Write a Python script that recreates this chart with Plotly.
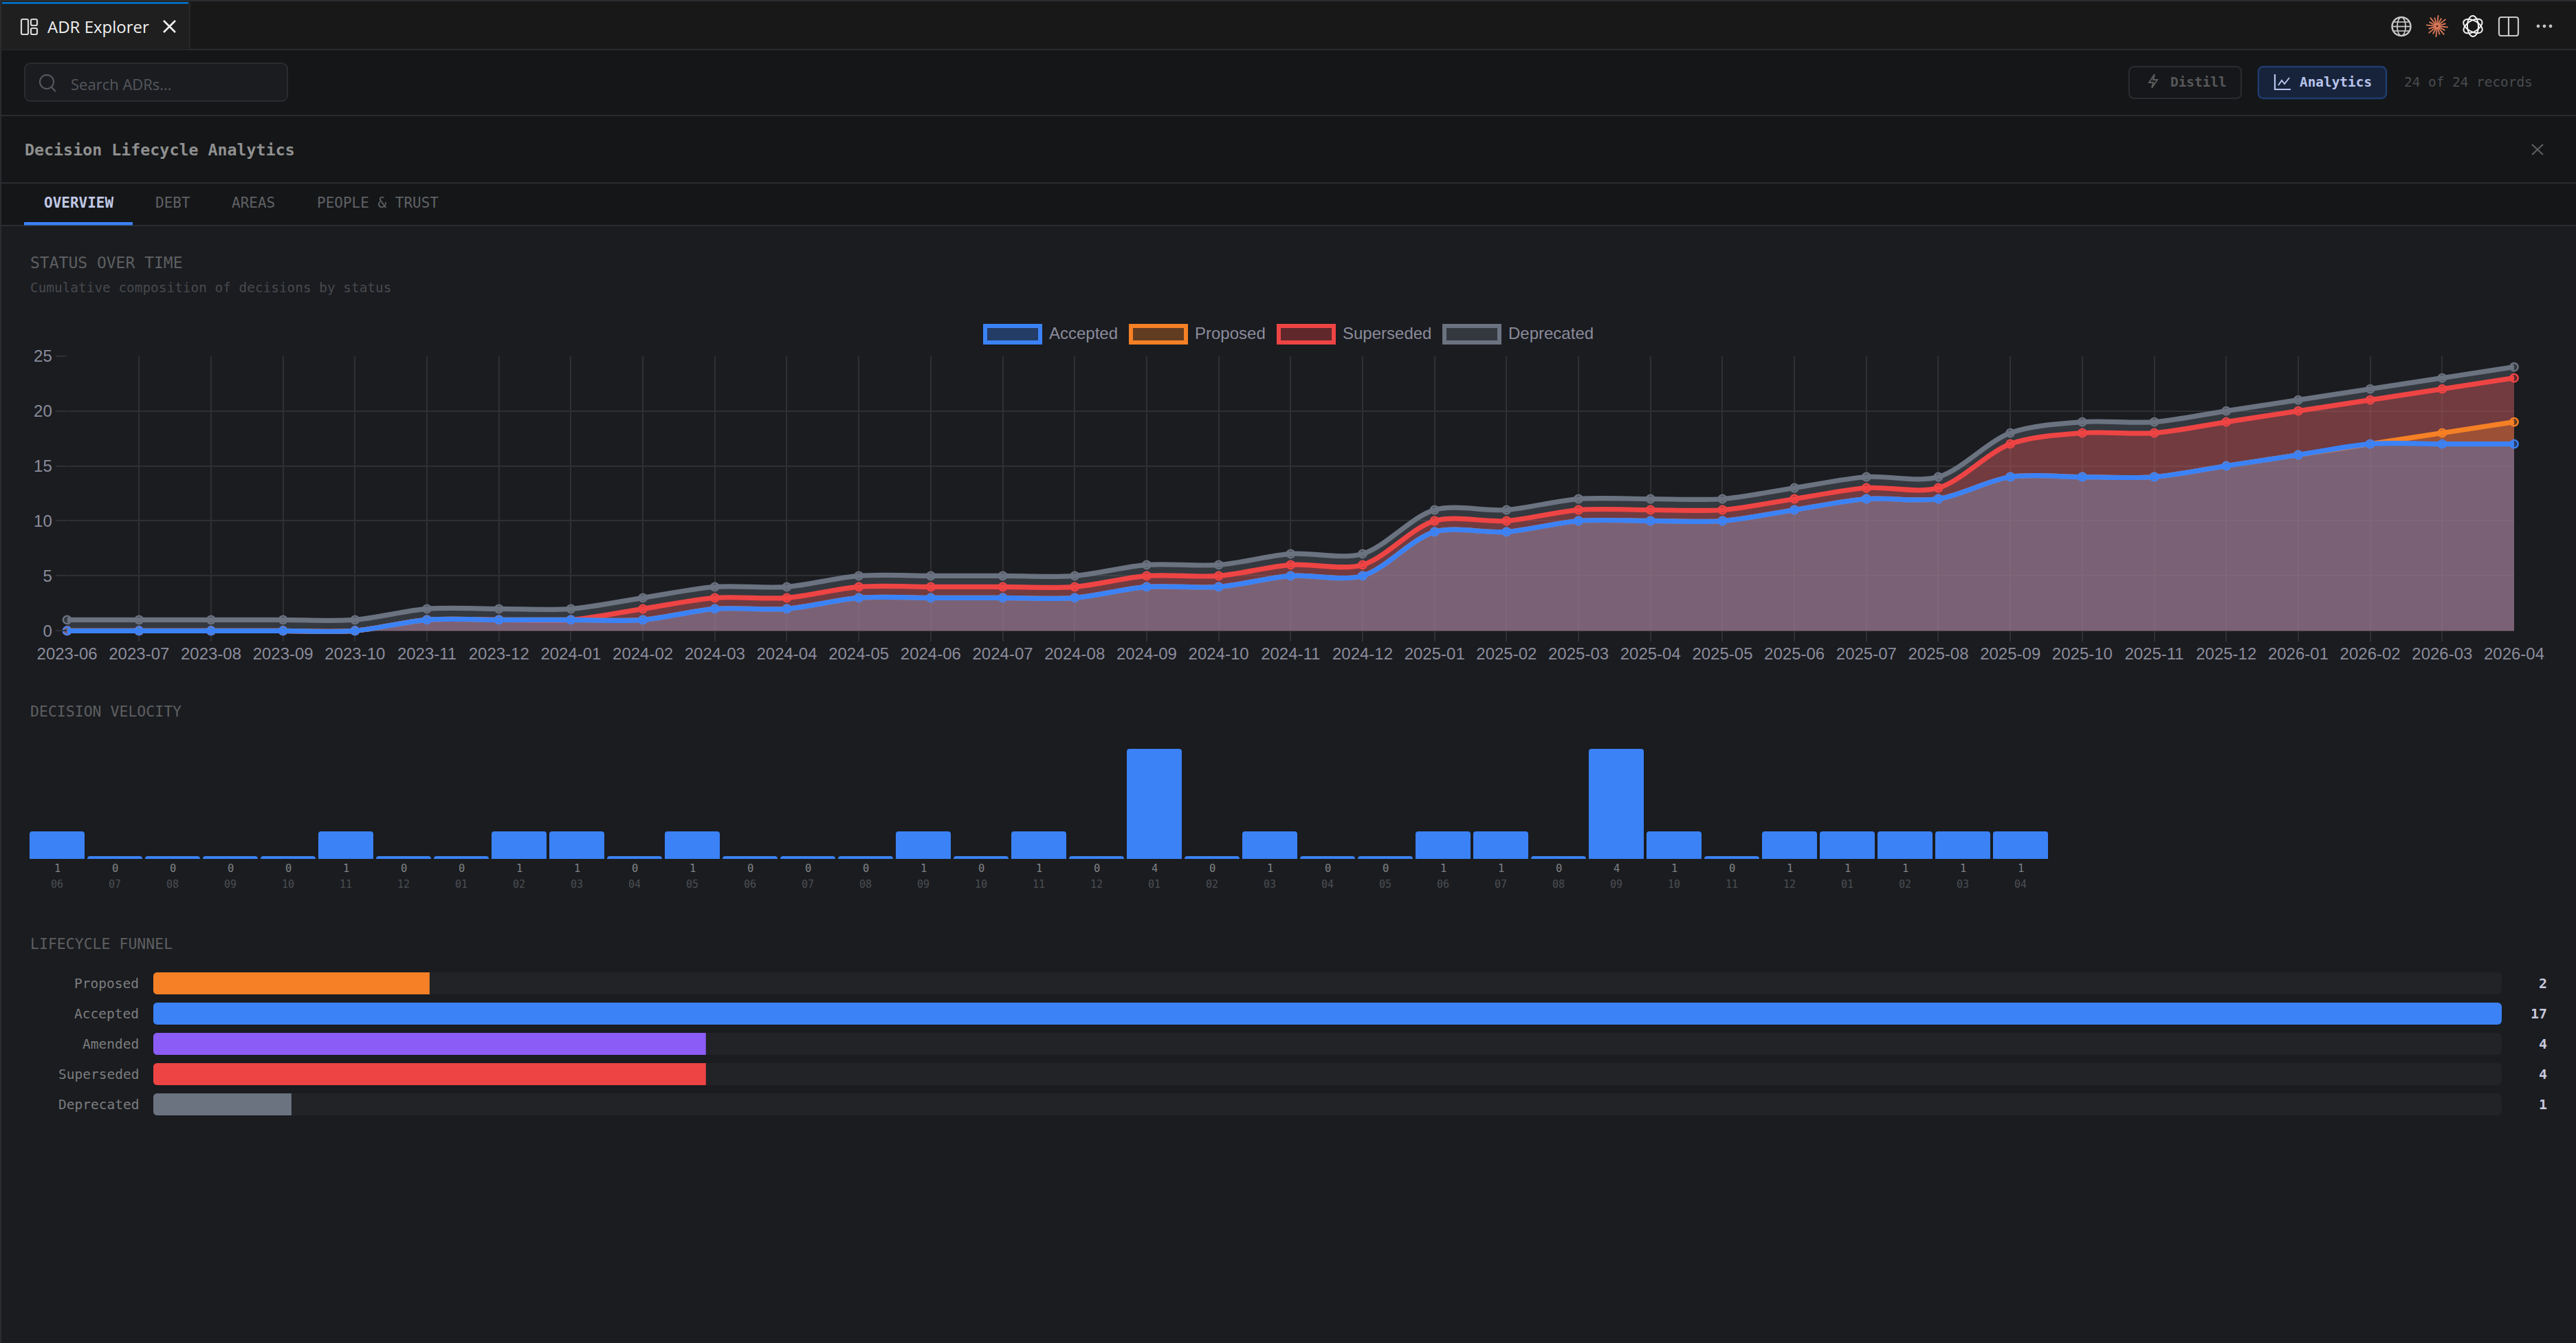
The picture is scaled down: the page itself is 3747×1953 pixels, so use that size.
import math
import numpy as np
import plotly.graph_objects as go

W, H = 3747, 1953

# ---------- data ----------
months = ["2023-06","2023-07","2023-08","2023-09","2023-10","2023-11","2023-12",
          "2024-01","2024-02","2024-03","2024-04","2024-05","2024-06","2024-07","2024-08","2024-09","2024-10","2024-11","2024-12",
          "2025-01","2025-02","2025-03","2025-04","2025-05","2025-06","2025-07","2025-08","2025-09","2025-10","2025-11","2025-12",
          "2026-01","2026-02","2026-03","2026-04"]
accepted   = [0,0,0,0,0,1,1,1,1,2,2,3,3,3,3,4,4,5,5,9,9,10,10,10,11,12,12,14,14,14,15,16,17,17,17]
proposed   = [0,0,0,0,0,0,0,0,0,0,0,0,0,0,0,0,0,0,0,0,0,0,0,0,0,0,0,0,0,0,0,0,0,1,2]
superseded = [0,0,0,0,0,0,0,0,1,1,1,1,1,1,1,1,1,1,1,1,1,1,1,1,1,1,1,3,4,4,4,4,4,4,4]
deprecated = [1,1,1,1,1,1,1,1,1,1,1,1,1,1,1,1,1,1,1,1,1,1,1,1,1,1,1,1,1,1,1,1,1,1,1]
velocity   = [1,0,0,0,0,1,0,0,1,1,0,1,0,0,0,1,0,1,0,4,0,1,0,0,1,1,0,4,1,0,1,1,1,1,1]
funnel_names  = ["Proposed","Accepted","Amended","Superseded","Deprecated"]
funnel_values = [2,17,4,4,1]
status_names = ["Accepted","Proposed","Superseded","Deprecated"]

# ---------- styles ----------
BLUE, ORANGE, RED, GRAY, PURPLE = "#3b82f6", "#f58025", "#ef4444", "#6b7280", "#8b5cf6"
FUNNEL_COLORS = [ORANGE, BLUE, PURPLE, RED, GRAY]
MONO = "DejaVu Sans Mono"
SANS = "Liberation Sans"
UI = "Open Sans"
BG = "#1a1c20"
LINE = "#2b2c2f"
GRID = "#2e3034"
TICK = "#8b8b9b"

def a(hexc, alpha):
    return f"rgba({int(hexc[1:3],16)},{int(hexc[3:5],16)},{int(hexc[5:7],16)},{alpha})"

def fx(px): return px / W
def fy(py): return 1 - py / H

shapes, annos = [], []

def rect(x0, y0, x1, y1, fill, line=None, lw=0, r=0):
    if r:
        k = r * 0.45
        p = (f"M{fx(x0+r)},{fy(y0)} L{fx(x1-r)},{fy(y0)} C{fx(x1-k)},{fy(y0)} {fx(x1)},{fy(y0+k)} {fx(x1)},{fy(y0+r)} "
             f"L{fx(x1)},{fy(y1-r)} C{fx(x1)},{fy(y1-k)} {fx(x1-k)},{fy(y1)} {fx(x1-r)},{fy(y1)} "
             f"L{fx(x0+r)},{fy(y1)} C{fx(x0+k)},{fy(y1)} {fx(x0)},{fy(y1-k)} {fx(x0)},{fy(y1-r)} "
             f"L{fx(x0)},{fy(y0+r)} C{fx(x0)},{fy(y0+k)} {fx(x0+k)},{fy(y0)} {fx(x0+r)},{fy(y0)} Z")
        shapes.append(dict(type="path", xref="paper", yref="paper", path=p, fillcolor=fill,
                           line=dict(color=line or "rgba(0,0,0,0)", width=lw), layer="below"))
    else:
        shapes.append(dict(type="rect", xref="paper", yref="paper", x0=fx(x0), x1=fx(x1), y0=fy(y0), y1=fy(y1),
                           fillcolor=fill, line=dict(color=line or "rgba(0,0,0,0)", width=lw), layer="below"))

def poly(pts, color, lw=2.4, fill=None, close=False):
    p = "M" + " L".join(f"{fx(x)},{fy(y)}" for x, y in pts) + (" Z" if close else "")
    shapes.append(dict(type="path", xref="paper", yref="paper", path=p, fillcolor=fill or "rgba(0,0,0,0)",
                       line=dict(color=color, width=lw), layer="above"))

def ell(cx, cy, rx, ry, color, lw=2.4, rot=0):
    pts = []
    for i in range(49):
        t = 2 * math.pi * i / 48
        x, y = rx * math.cos(t), ry * math.sin(t)
        c, s = math.cos(rot), math.sin(rot)
        pts.append((cx + x * c - y * s, cy + x * s + y * c))
    poly(pts, color, lw)

def txt(x, y, s, size, color, font=MONO, anchor="left", xref="paper", yref="paper"):
    annos.append(dict(x=fx(x) if xref == "paper" else x, y=fy(y) if yref == "paper" else y, text=s,
                      xref=xref, yref=yref, showarrow=False, xanchor=anchor, yanchor="middle",
                      borderpad=0, font=dict(family=font, size=size, color=color)))

# ---------- chrome ----------
rect(0, 0, W, 72, "#181818")
rect(0, 72, W, 328, "#151618")
rect(0, 0, W, 2, LINE)
rect(0, 71, W, 73, LINE)
rect(0, 167, W, 169, LINE)
rect(0, 265, W, 267, LINE)
rect(0, 327, W, 329, LINE)
rect(0, 0, 2, H, LINE)
rect(2, 3, 275, 72, "#1f1f1f")
rect(3, 3, 274, 5.5, "#0078d4")
rect(275, 3, 276.5, 72, LINE)
rect(36, 92, 418, 147, BG, "#2a2c30", 2, 8)
rect(35, 323, 193, 327.5, BLUE)
rect(3097, 97, 3260, 143, "#16171a", "#2a2c30", 2, 7)
rect(3285, 97, 3471, 143, "#17233a", "#1f3d70", 2.4, 7)

# tab icon and close glyphs
for b in [(31, 28, 41, 50), (45, 28, 54, 37), (45, 41, 54, 50)]:
    rect(*b, "rgba(0,0,0,0)", "#d8d8d8", 2.2, 2)
shapes[-3:] = [dict(s, layer="above") for s in shapes[-3:]]
poly([(238, 30), (255, 47)], "#f0f0f0", 2.6); poly([(255, 30), (238, 47)], "#f0f0f0", 2.6)
poly([(3683, 210), (3699, 225)], "#5e5e5e", 2.2); poly([(3699, 210), (3683, 225)], "#5e5e5e", 2.2)
# search icon
ell(68, 119, 10, 10, "#55585e", 2.2); poly([(75, 127), (81, 133)], "#55585e", 2.2)
# globe
ell(3493, 38.5, 13.5, 13.5, "#c8c8c8"); ell(3493, 38.5, 6, 13.5, "#c8c8c8", 1.8)
poly([(3479.5, 38.5), (3506.5, 38.5)], "#c8c8c8", 1.8)
poly([(3481, 32), (3505, 32)], "#c8c8c8", 1.6); poly([(3481, 45), (3505, 45)], "#c8c8c8", 1.6)
# starburst
for i in range(16):
    t = 2 * math.pi * i / 16 + 0.1
    r = 16 if i % 2 == 0 else 13
    poly([(3545 + 1.5 * math.cos(t), 38 + 1.5 * math.sin(t)), (3545 + r * math.cos(t), 38 + r * math.sin(t))], "#d97757", 1.9)
# knot
for i in range(3):
    rot = 2 * math.pi * i / 3 + 0.5
    ell(3597, 38, 15, 8, "#f2f2f2", 2, rot)
# layout icon
rect(3635, 25, 3663, 52, "rgba(0,0,0,0)", "#c8c8c8", 2.2, 3)
shapes[-1] = dict(shapes[-1], layer="above")
poly([(3649, 25), (3649, 52)], "#c8c8c8", 2.2)
# dots
for dx in (3692, 3701, 3710):
    ell(dx, 38, 1.3, 1.3, "#d0d0d0", 2)
# bolt
poly([(3134, 108), (3126, 120), (3132, 120), (3130, 128), (3138, 116), (3132, 116), (3134, 108)], "#5a5a5a", 2)
# analytics icon
poly([(3309, 108), (3309, 130), (3332, 130)], "#b8c4ec", 2.2)
poly([(3314, 124), (3319, 117), (3323, 122), (3330, 113)], "#b8c4ec", 2)

txt(68, 39, "ADR Explorer", 24, "#f0f0f0", UI)
txt(102, 122, "Search ADRs...", 22, "#55585e", UI)
txt(3156, 120, "<b>Distill</b>", 19.4, "#57585a")
txt(3344, 120, "<b>Analytics</b>", 19.4, "#b8c4ec")
txt(3496, 120, "24 of 24 records", 19.4, "#4a4c50")
txt(35, 217, "<b>Decision Lifecycle Analytics</b>", 23.3, "#8f9090")
txt(63, 295, "<b>OVERVIEW</b>", 21, "#c0c8e4")
txt(225, 295, "DEBT", 21, "#5f6165")
txt(336, 295, "AREAS", 21, "#5f6165")
txt(460, 295, "PEOPLE &amp; TRUST", 21, "#5f6165")
txt(43, 382, "STATUS OVER TIME", 23, "#5e5f61")
txt(43, 419, "Cumulative composition of decisions by status", 19.4, "#47494d")
txt(43, 1034, "DECISION VELOCITY", 21.5, "#5e5f61")
txt(43, 1372, "LIFECYCLE FUNNEL", 21.5, "#5e5f61")

# legend (built from the status names)
leg_box = [1430, 1642, 1857, 2098]
leg_col = [BLUE, ORANGE, RED, GRAY]
for bx, col, name in zip(leg_box, leg_col, status_names):
    rect(bx + 3, 474, bx + 83, 498, a(col, 0.33), col, 6)
    txt(bx + 95, 484.5, name, 24, TICK, SANS)

# ---------- figure ----------
fig = go.Figure()

tops = np.cumsum([accepted, proposed, superseded, deprecated], axis=0)
for top, col, name in list(zip(tops, leg_col, status_names))[::-1]:
    fig.add_trace(go.Scatter(x=months, y=top.tolist(), name=name, mode="lines+markers", fill="tozeroy",
                             fillcolor=a(col, 0.33), cliponaxis=False,
                             line=dict(color=col, width=7.2, shape="spline", smoothing=0.9),
                             marker=dict(size=11.5, color=a(col, 0.33), line=dict(color=col, width=2.4)),
                             xaxis="x", yaxis="y", showlegend=False))

# velocity: empty months keep a thin stub, as in the reference
fig.add_trace(go.Bar(x=months, y=[max(v, 0.1) for v in velocity],
                     marker=dict(color=BLUE, cornerradius=4, line=dict(width=0)),
                     width=80 / 84, xaxis="x2", yaxis="y2", showlegend=False))
for m, v in zip(months, velocity):
    txt(m, 1263, str(v), 15.5, "#808285", anchor="center", xref="x2")
    txt(m, 1286, m[-2:], 15, "#4c4e52", anchor="center", xref="x2")

# funnel: track and value bars; the bar corner radius only rounds the far end
fig.add_trace(go.Bar(y=funnel_names, x=[max(funnel_values)] * len(funnel_values), orientation="h",
                     marker=dict(color="#212327", cornerradius=6, line=dict(width=0)), width=32 / 44,
                     xaxis="x3", yaxis="y3", showlegend=False))
fig.add_trace(go.Bar(y=funnel_names, x=funnel_values, orientation="h",
                     marker=dict(color=FUNNEL_COLORS, cornerradius=6, line=dict(width=0)), width=32 / 44,
                     xaxis="x3", yaxis="y3", showlegend=False))
for n, v in zip(funnel_names, funnel_values):
    txt(203, n, n, 19.5, "#7c7d7e", anchor="right", yref="y3")
    txt(3706, n, f"<b>{v}</b>", 20, "#c8c8dc", anchor="right", yref="y3")

# background-coloured notches give the funnel rows their rounded left ends
X0, R, K = 223, 6, 2.2
for top_px in (1414, 1458, 1502, 1546, 1590):
    for yc, sgn in ((top_px, 1), (top_px + 32, -1)):
        p = (f"M{fx(X0-0.5)},{fy(yc)} L{fx(X0+R)},{fy(yc)} C{fx(X0+K)},{fy(yc)} {fx(X0)},{fy(yc+sgn*K)} "
             f"{fx(X0)},{fy(yc+sgn*R)} L{fx(X0-0.5)},{fy(yc+sgn*R)} Z")
        shapes.append(dict(type="path", xref="paper", yref="paper", path=p, fillcolor=BG,
                           line=dict(width=0), layer="above"))

fig.update_layout(
    width=W, height=H, margin=dict(l=0, r=0, t=0, b=0, autoexpand=False), autosize=False,
    paper_bgcolor=BG, plot_bgcolor="rgba(0,0,0,0)", barmode="overlay", showlegend=False,
    shapes=shapes, annotations=annos, hovermode=False,
    # y starts at -1 so the vertical grid lines run 16px below zero, like the reference's tick marks
    xaxis=dict(domain=[fx(97.6), fx(3657)], anchor="y", type="category", range=[0, 34],
               tickmode="array", tickvals=months, ticktext=months, tickangle=0,
               showgrid=True, gridcolor=GRID, gridwidth=2, ticks="", ticklabelstandoff=1,
               tickfont=dict(family=SANS, size=24, color=TICK), zeroline=False, showline=False),
    yaxis=dict(domain=[fy(933.3), fy(517.7)], anchor="x", range=[-1, 25], tick0=0, dtick=5,
               showgrid=True, gridcolor=GRID, gridwidth=2, ticks="outside", ticklen=16, tickwidth=2, tickcolor=GRID,
               tickfont=dict(family=SANS, size=24, color=TICK), zeroline=False, showline=False),
    xaxis2=dict(domain=[fx(41), fx(2981)], anchor="y2", type="category", range=[-0.5, 34.5], visible=False),
    yaxis2=dict(domain=[fy(1249), fy(1089)], anchor="x2", range=[0, 4], visible=False),
    xaxis3=dict(domain=[fx(223), fx(3639)], anchor="y3", range=[0, 17], visible=False),
    yaxis3=dict(domain=[fy(1628), fy(1408)], anchor="x3", type="category",
                categoryorder="array", categoryarray=funnel_names, range=[4.5, -0.5], visible=False),
)

fig.write_html("out.html", config=dict(displayModeBar=False),
               post_script="document.body.style.margin='0';document.body.style.overflow='hidden';document.body.style.background='#1a1c20';")
